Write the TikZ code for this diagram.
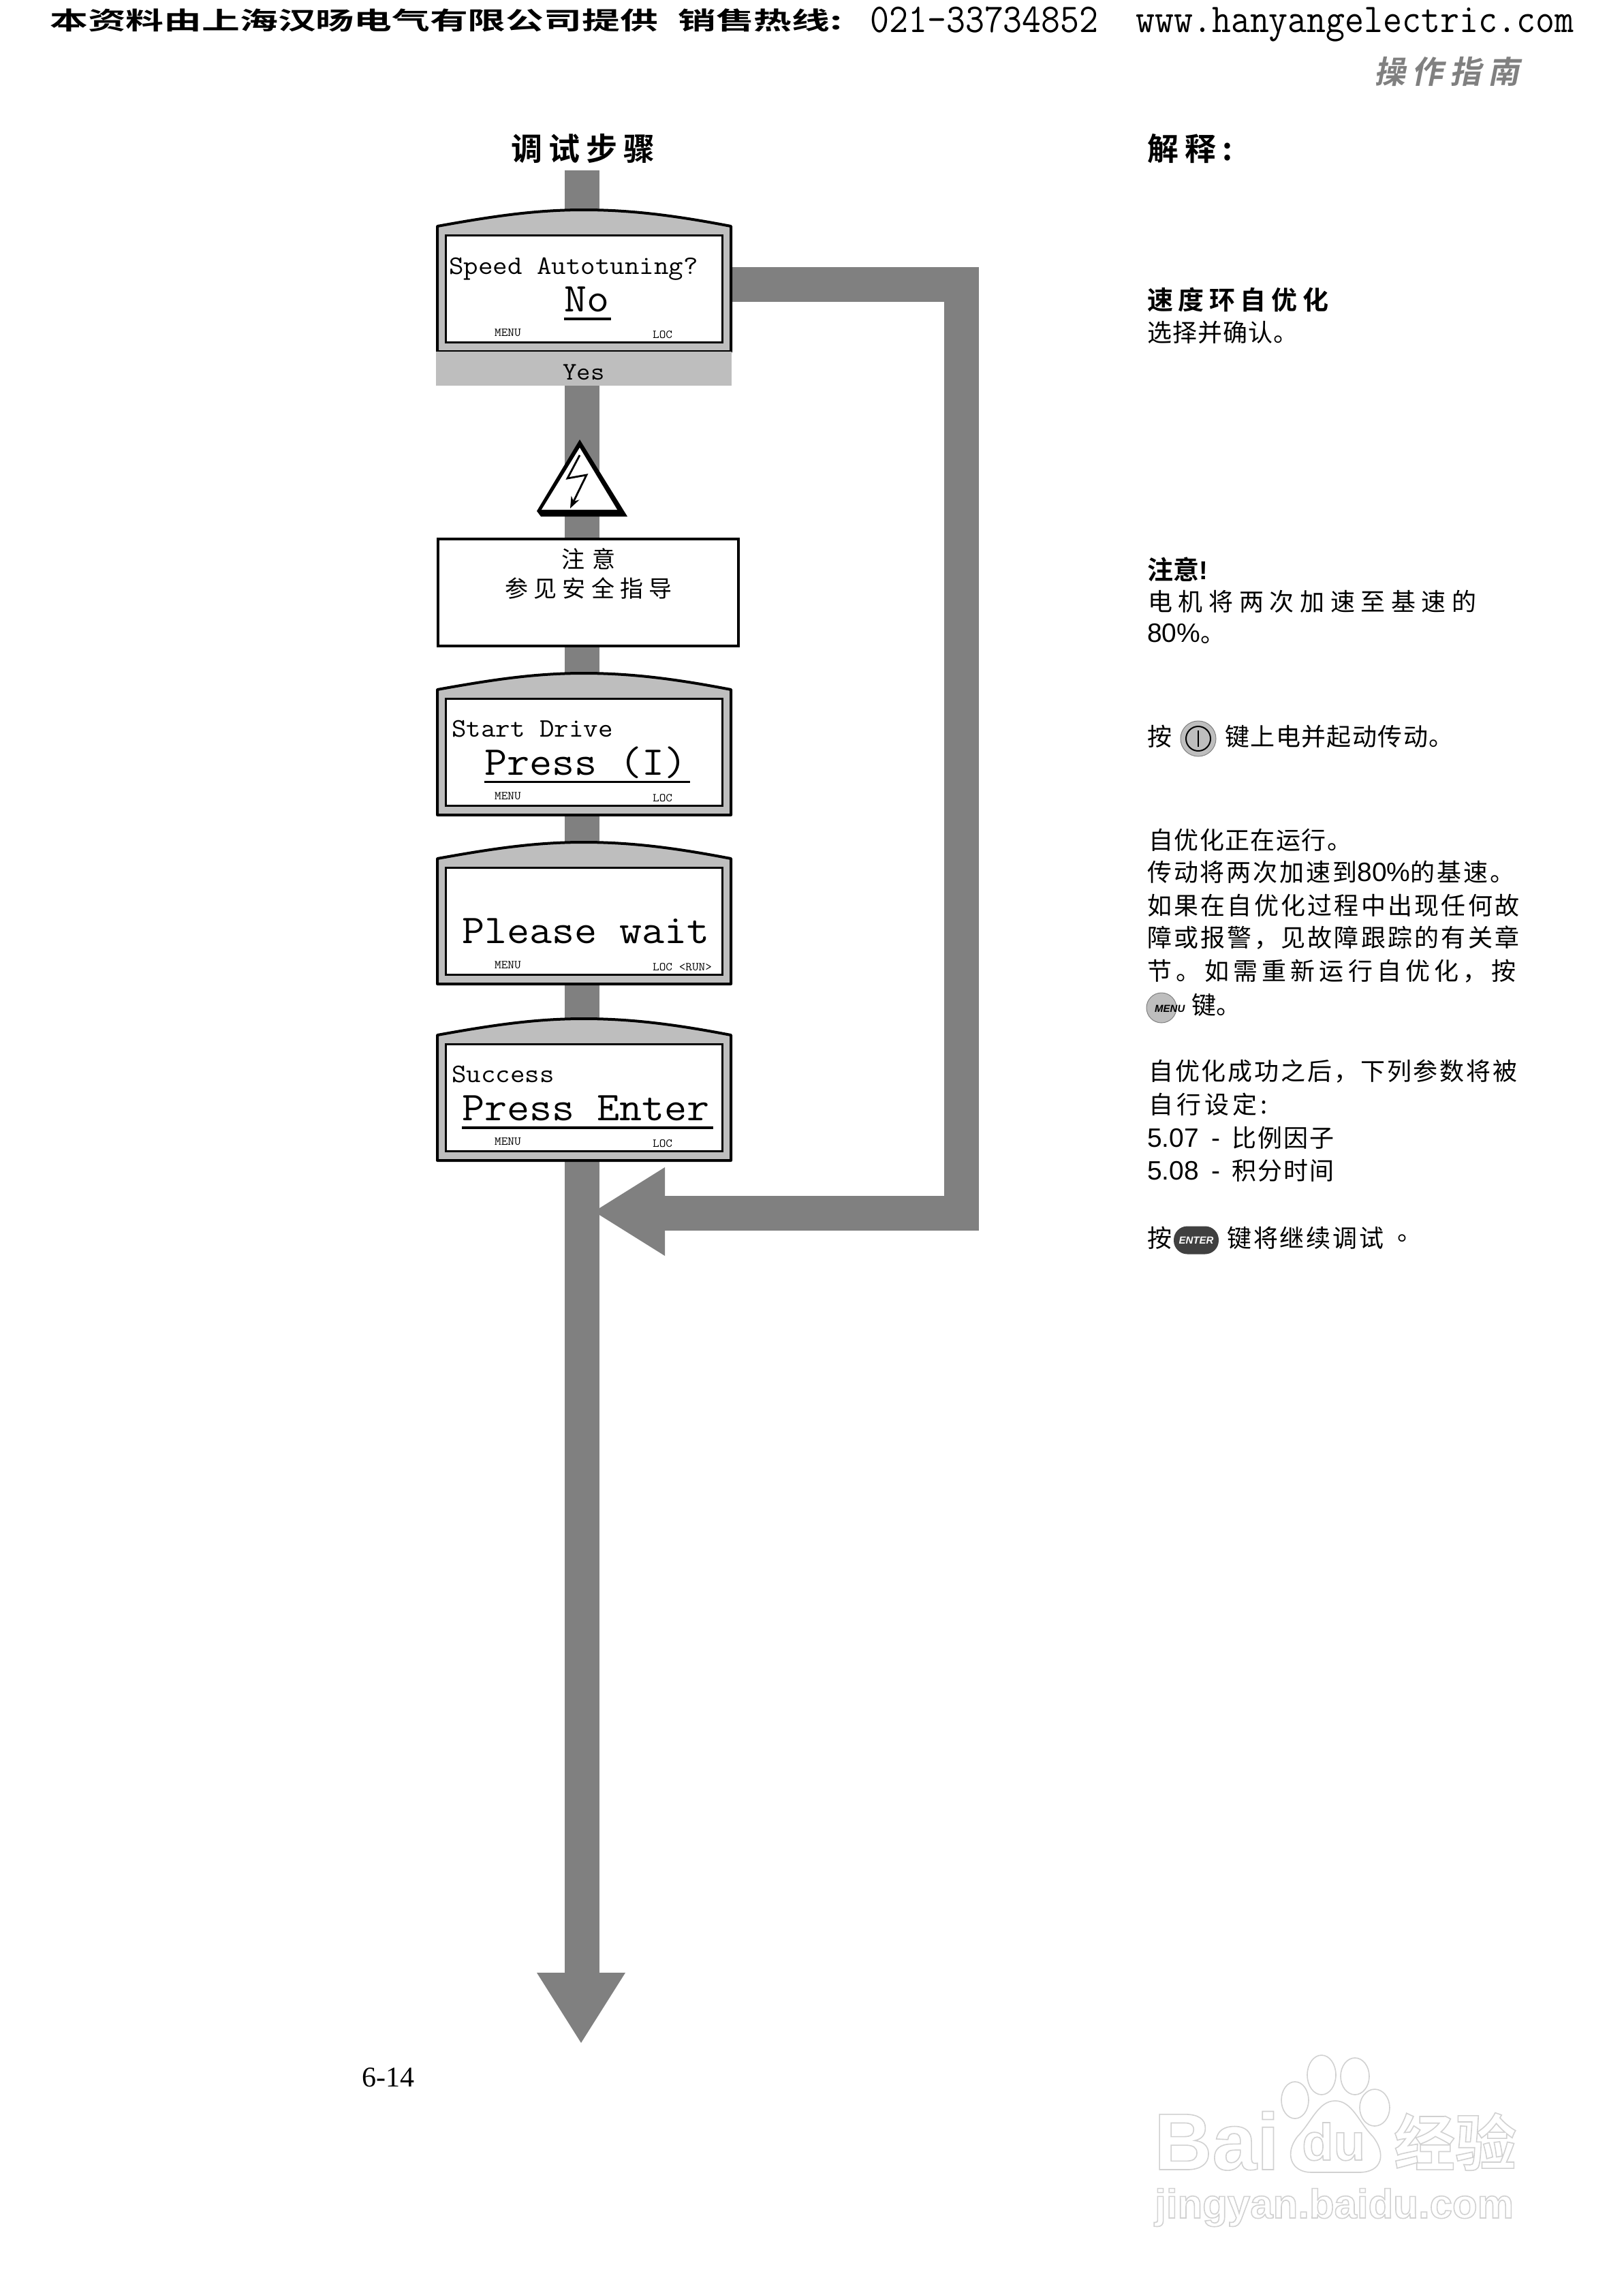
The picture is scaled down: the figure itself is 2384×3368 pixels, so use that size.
\documentclass[tikz,border=0pt]{standalone}
\usepackage{fontspec}
\usepackage[dvipsnames]{xcolor}
\usetikzlibrary{arrows.meta}

\newfontfamily\cjk{Noto Sans CJK SC}
\newfontfamily\cjkbold{Noto Sans CJK SC Bold}
\newfontfamily\cjkwide[FakeStretch=1.55]{Noto Sans CJK SC Bold}
\newfontfamily\cjkslant[FakeSlant=0.2]{Noto Sans CJK SC Bold}
\newfontfamily\lat{Liberation Sans}
\newfontfamily\pagefont{Liberation Serif}
\newfontfamily\lcd[FakeStretch=1.07]{Latin Modern Mono}
\newfontfamily\hdr[FakeStretch=0.905]{Latin Modern Mono}
\newcommand{\fs}[1]{\fontsize{#1}{#1}\selectfont}
\newcommand{\ls}[1]{\addfontfeature{LetterSpace=#1}}
\newcommand{\outlined}[1]{\special{pdf:code 1 Tr 1.6 w 0.82 G}#1\special{pdf:code 0 Tr}}

\definecolor{flowgray}{HTML}{808080}
\definecolor{panelgray}{HTML}{BEBEBE}

\begin{document}
\begin{tikzpicture}[x=1pt, y=-1pt,
    flow/.style={line width=51pt, color=flowgray},
    body/.style={draw=black, fill=panelgray, line width=4pt, line join=round},
    screen/.style={draw=black, fill=white, line width=3pt, anchor=north, inner sep=0pt, minimum width=406pt, minimum height=157pt},
    lcdsmall/.style={anchor=base west, inner sep=0pt, font=\lcd\fs{39}},
    lcdbig/.style={anchor=base west, inner sep=0pt, font=\lcd\fs{60}},
    softkey/.style={anchor=base west, inner sep=0pt, font=\lcd\fs{17.5}},
    note/.style={anchor=west, inner sep=0pt, font=\cjk\fs{36}},
    notehead/.style={anchor=west, inner sep=0pt, font=\cjkbold\fs{38}},
    title/.style={anchor=west, inner sep=0pt, font=\cjkbold\fs{46}\ls{20}},
    paw/.style={draw=black!18, fill=white, line width=1.6pt}]
    \useasboundingbox (0,0) rectangle (2384,3368);

    % header
    \node[anchor=west, inner sep=0pt, font=\cjkwide\fs{36}] (shop) at (73,30) {本资料由上海汉旸电气有限公司提供};
    \node[anchor=west, inner sep=0pt, font=\cjkwide\fs{36}] (sales) at (995,30) {销售热线:};
    \node[anchor=base west, inner sep=0pt, font=\hdr\fs{60}] (phone) at (1277,47) {021-33734852};
    \node[anchor=base west, inner sep=0pt, font=\hdr\fs{60}] (site) at (1667,47) {www.hanyangelectric.com};
    \node[anchor=west, inner sep=0pt, text=flowgray, font=\cjkslant\fs{46}\ls{21}] (guide) at (2017,105) {操作指南};

    \node[title] (steps) at (750,218) {调试步骤};
    \node[title] (notes) at (1684,218) {解释:};

    % flow lines
    \coordinate (trunktop) at (854.5,250);
    \coordinate (trunkend) at (854.5,2895);
    \coordinate (loopstart) at (1074,417.5);
    \coordinate (loopright) at (1411.5,417.5);
    \coordinate (loopdown) at (1411.5,1780.5);
    \coordinate (loopend) at (976,1780.5);
    \path[flow] (trunktop) edge (trunkend);
    \draw[flow] (loopstart) -- (loopright) -- (loopdown) -- (loopend);
    \fill[flowgray] (872,1778) -- (976,1713) -- (976,1843) -- cycle;
    \fill[flowgray] (853,2998) -- (788,2895) -- (918,2895) -- cycle;

    % displays
    \foreach \name/\ytop in {speed/308, start/988, wait/1236, done/1495}{
        \draw[body] (642,\ytop+24) .. controls (730,\ytop+8) and (790,\ytop) .. (857,\ytop)
            .. controls (925,\ytop) and (990,\ytop+8) .. (1073,\ytop+24)
            -- (1073,\ytop+208) -- (642,\ytop+208) -- cycle;
        \node[screen] (\name) at (857,\ytop+36) {};
        \node[softkey] (\name menu) at (726,\ytop+185) {MENU};
    }
    \node[softkey] (speedloc) at (958,496) {LOC};
    \node[softkey] (startloc) at (958,1176) {LOC};
    \node[softkey] (waitloc) at (958,1424) {LOC <RUN>};
    \node[softkey] (doneloc) at (958,1683) {LOC};

    \node[lcdsmall] (speedtext) at (659,402) {Speed Autotuning?};
    \node[lcdbig] (speedno) at (828,457) {No};
    \fill (828,466) rectangle (897,470);
    \node[anchor=north, minimum width=434pt, minimum height=50pt, inner sep=0pt, fill=panelgray] (yes) at (857,516) {};
    \node[anchor=base, inner sep=0pt, font=\lcd\fs{37}] (yestext) at (857,557) {Yes};

    \node[lcdsmall] (starttext) at (663,1081) {Start Drive};
    \node[lcdbig] (startpress) at (711,1137) {Press (I)};
    \fill (711,1146) rectangle (1013,1149);
    \node[lcdbig] (waittext) at (678,1384) {Please wait};
    \node[lcdsmall] (donetext) at (663,1588) {Success};
    \node[lcdbig] (donepress) at (678,1644) {Press Enter};
    \fill (678,1653) rectangle (1047,1657);

    % warning
    \fill[black] (851,645) -- (921,758) -- (794,758) -- (788,750) -- cycle;
    \fill[white] (851,657) -- (795,748) -- (906,748) -- cycle;
    \draw[line width=2.8pt, -{Stealth[length=17pt, width=13pt]}] (851,668) -- (833,702) -- (861,697) -- (837,746);
    \node[draw=black, fill=white, line width=3.5pt, anchor=north west, inner sep=0pt, minimum width=441pt, minimum height=157pt] (warnbox) at (641,789) {};
    \node[inner sep=0pt, font=\cjk\fs{34}\ls{35}] (warnhead) at (864,820) {注意};
    \node[inner sep=0pt, font=\cjk\fs{34}\ls{24}] (warntext) at (864,863) {参见安全指导};

    % right column
    \node[notehead, font=\cjkbold\fs{38}\ls{20}] (n1) at (1684,440) {速度环自优化};
    \node[note, font=\cjk\fs{36}\ls{3}] (n2) at (1684,488) {选择并确认。};
    \node[notehead] (n3) at (1684,836) {注意{\lat\bfseries !}};
    \node[note, font=\cjk\fs{36}\ls{24}] (n4) at (1685,883) {电机将两次加速至基速的};
    \node[note] (n5) at (1684,930) {{\lat\fs{39}80\%}。};

    \node[note] (n6) at (1684,1081) {按};
    \node[circle, draw=flowgray, fill=panelgray, line width=1pt, minimum size=52pt, inner sep=0pt] (runkey) at (1759,1084) {};
    \node[circle, draw=black, line width=2pt, minimum size=36pt, inner sep=0pt] (runring) at (runkey) {};
    \draw[line width=1.5pt] (1759,1072) -- (1759,1096);
    \node[note, font=\cjk\fs{36}\ls{4}] (n7) at (1798,1081) {键上电并起动传动。};

    \node[note, font=\cjk\fs{36}\ls{4}] (n8) at (1686,1233) {自优化正在运行。};
    \node[note, font=\cjk\fs{36}\ls{8}] (n9) at (1684,1280) {传动将两次加速到{\lat\fs{39}80\%}的基速。};
    \node[note, font=\cjk\fs{36}\ls{9}] (n10) at (1684,1329) {如果在自优化过程中出现任何故};
    \node[note, font=\cjk\fs{36}\ls{9}] (n11) at (1684,1376) {障或报警，见故障跟踪的有关章};
    \node[note, font=\cjk\fs{36}\ls{17}] (n12) at (1684,1425) {节。如需重新运行自优化，按};
    \node[circle, draw=flowgray, fill=panelgray, line width=1pt, minimum size=44pt, inner sep=0pt] (menukey) at (1705,1479) {};
    \node[anchor=west, inner sep=0pt, font=\lat\bfseries\itshape\fs{15}] (menulabel) at (1695,1480) {MENU};
    \node[note] (n13) at (1749,1475) {键。};

    \node[note, font=\cjk\fs{36}\ls{8}] (n14) at (1686,1572) {自优化成功之后，下列参数将被};
    \node[note, font=\cjk\fs{36}\ls{14}] (n15) at (1686,1621) {自行设定:};
    \node[note, font=\cjk\fs{36}\ls{6}] (n16) at (1684,1670) {{\lat\fs{39}5.07\hspace{18pt}-\hspace{17pt}}比例因子};
    \node[note, font=\cjk\fs{36}\ls{6}] (n17) at (1684,1718) {{\lat\fs{39}5.08\hspace{18pt}-\hspace{17pt}}积分时间};

    \node[note] (n18) at (1684,1817) {按};
    \node[rounded corners=20pt, fill=black!75, minimum width=66pt, minimum height=41pt, inner sep=0pt, text=white, font=\lat\bfseries\itshape\fs{15}] (enterkey) at (1756,1820) {ENTER};
    \node[note, font=\cjk\fs{36}\ls{8}] (n19) at (1801,1817) {键将继续调试};
    \node[note] (n20) at (2051,1817) {。};

    % page number
    \node[anchor=base west, inner sep=0pt, font=\pagefont\fs{42}] (pageno) at (531,3062) {6-14};

    % watermark
    \draw[paw] (1901,3082) ellipse (20 and 27);
    \draw[paw] (1940,3045) ellipse (21 and 29);
    \draw[paw] (1989,3047) ellipse (21 and 27);
    \draw[paw] (2018,3093) ellipse (22 and 27);
    \draw[paw] (1960,3083) .. controls (1935,3083) and (1925,3115) .. (1905,3135)
        .. controls (1885,3160) and (1895,3188) .. (1925,3188)
        .. controls (1945,3188) and (1975,3188) .. (1995,3188)
        .. controls (2030,3188) and (2035,3160) .. (2015,3135)
        .. controls (1995,3115) and (1985,3083) .. (1960,3083) -- cycle;
    \node[anchor=base west, inner sep=0pt, font=\lat\bfseries\fs{118}] (wmbai) at (1694,3184) {\outlined{Bai}};
    \node[anchor=base west, inner sep=0pt, font=\lat\bfseries\fs{76}] (wmdu) at (1911,3170) {\outlined{du}};
    \node[anchor=base west, inner sep=0pt, font=\cjkbold\fs{90}] (wmcn) at (2046,3178) {\outlined{经验}};
    \node[anchor=base west, inner sep=0pt, font=\lat\bfseries\fs{60}] (wmurl) at (1695,3255) {\outlined{jingyan.baidu.com}};
\end{tikzpicture}
\end{document}
